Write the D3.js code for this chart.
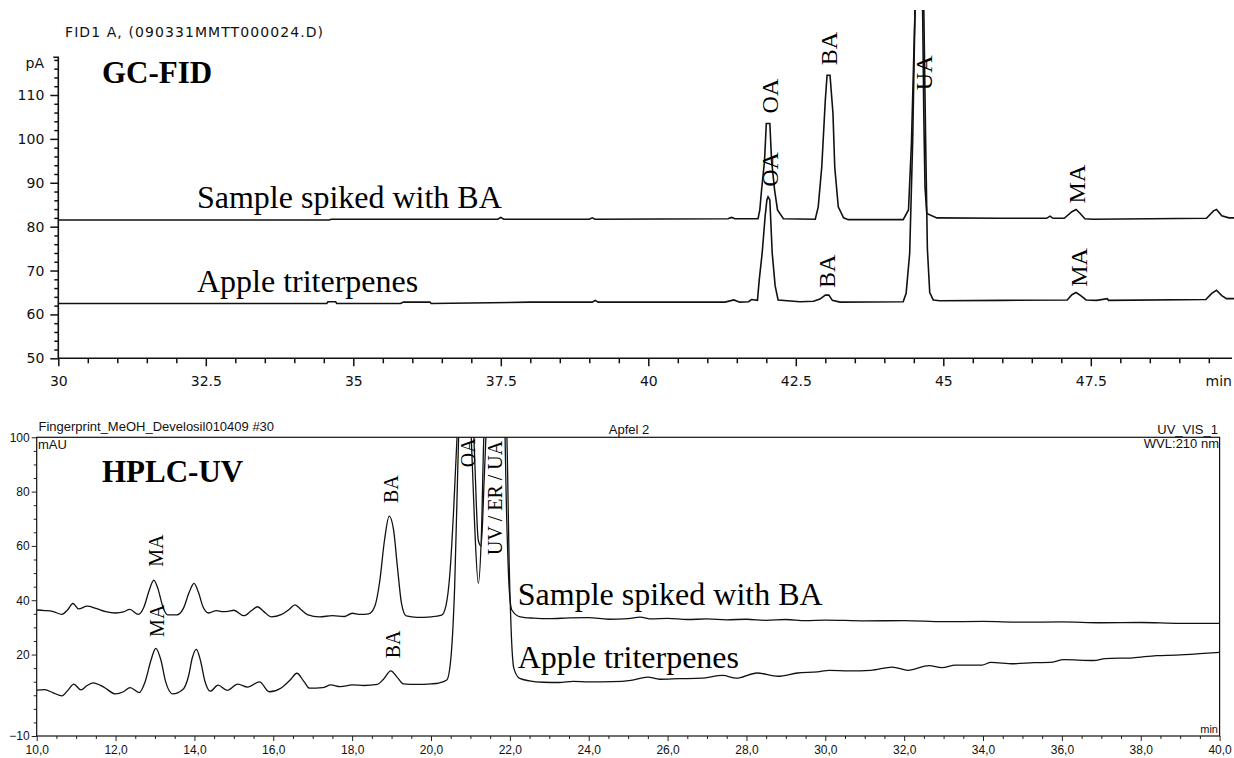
<!DOCTYPE html>
<html>
<head>
<meta charset="utf-8">
<title>GC-FID / HPLC-UV fingerprint</title>
<script src="https://d3js.org/d3.v7.min.js"></script>
<style>
body{ margin:0; background:#fff; }
svg{ display:block; }
.trace{ fill:none; stroke:#111; }
.serif{ font-family:'Liberation Serif','Times New Roman',serif; fill:#000; }
.gcfont{ font-family:'DejaVu Sans',sans-serif; font-size:14px; fill:#111; }
.lcfont{ font-family:'Liberation Sans',Arial,sans-serif; font-size:13px; fill:#111; }
</style>
</head>
<body>
<svg id="chart" width="1234" height="758"></svg>
<script>
// ---- GC-FID data (time in min, signal in pA) ----
var gcXTicks = [30, 32.5, 35, 37.5, 40, 42.5, 45, 47.5];
var gcYTicks = [50, 60, 70, 80, 90, 100, 110];

var gcSpiked = [[30,81.5],[34.6,81.5],[34.62,81.7],[37.45,81.7],[37.5,82.1],[37.55,81.7],[39.0,81.7],[39.05,82.0],[39.1,81.7],
  [41.35,81.8],[41.41,82.1],[41.47,81.8],[41.86,81.8],[41.89,83.8],[41.92,88.4],[41.97,95],[42.0,103.5],[42.06,103.5],
  [42.09,95],[42.14,88.4],[42.19,83.8],[42.29,81.8],[42.83,81.7],[42.88,84.5],[42.94,93.6],[43.0,108.8],[43.03,114.5],
  [43.08,114.5],[43.13,105.8],[43.16,93.6],[43.22,84.5],[43.31,82.0],[43.39,81.6],[44.32,81.6],[44.41,83.8],[44.46,99],
  [44.52,129],[44.56,145],[44.61,145],[44.65,129],[44.67,105],[44.69,89],[44.72,83],[44.89,82],[45.96,81.9],[46.75,81.9],
  [46.81,82.4],[46.86,81.9],[47.05,81.9],[47.18,83.4],[47.25,83.9],[47.32,83.0],[47.4,81.8],[47.54,81.7],[49.46,81.9],
  [49.58,83.6],[49.63,83.9],[49.72,82.5],[49.84,82.0],[50,82.0]];

var gcApple = [[30,62.5],[34.55,62.5],[34.57,62.9],[34.7,62.9],[34.72,62.5],[35.8,62.5],[35.85,62.8],[36.3,62.8],[36.32,62.5],
  [37.0,62.6],[38.0,62.8],[39.05,62.8],[39.1,63.2],[39.15,62.8],[41.3,62.8],[41.45,63.3],[41.55,62.8],[41.7,62.9],
  [41.75,63.4],[41.85,63.2],[41.88,67.8],[41.93,74],[41.98,82.3],[42.01,86.1],[42.03,86.8],[42.06,86.1],[42.1,74],
  [42.15,66.5],[42.2,63.3],[42.57,62.9],[42.8,63.0],[42.91,63.5],[43.0,64.4],[43.06,64.4],[43.12,63.2],[43.25,62.8],
  [44.32,62.9],[44.37,64.8],[44.43,73.9],[44.48,99],[44.52,129],[44.56,145],[44.63,145],[44.67,129],[44.7,100],
  [44.73,75],[44.77,65],[44.83,63.3],[44.94,63.1],[46.0,63.2],[47.1,63.3],[47.18,64.5],[47.25,65],[47.33,64.3],
  [47.42,63.3],[47.6,63.2],[47.78,63.6],[47.8,63.2],[49.45,63.4],[49.55,64.8],[49.63,65.5],[49.72,64.3],[49.8,63.6],[50,63.6]];

// peak labels: name, time, value at the start of the rotated text
var gcPeakNames = ["OA", "OA", "BA", "BA", "UA", "MA", "MA"];
var gcPeakTimes = [42.20, 42.20, 43.20, 43.16, 44.80, 47.40, 47.43];
var gcPeakValues = [105.8, 89.1, 116.8, 66.0, 111.1, 85.3, 66.3];

// ---- HPLC-UV data (time in min, absorbance in mAU) ----
var lcXTicks = [10, 12, 14, 16, 18, 20, 22, 24, 26, 28, 30, 32, 34, 36, 38, 40];
var lcYTicks = [100, 80, 60, 40, 20, -10];

var lcSpiked = [[10.0,36.4],[10.2,36.2],[10.4,35.9],[10.64,34.8],[10.78,36.4],[10.92,38.8],[11.06,36.8],[11.28,37.8],
  [11.5,37.0],[11.75,35.8],[12.0,35.3],[12.2,35.7],[12.36,36.6],[12.58,34.8],[12.72,37.5],[12.85,43.5],[12.97,47.4],
  [13.08,44],[13.2,37.5],[13.32,34.6],[13.55,34.6],[13.72,37],[13.87,43],[13.99,46.2],[14.1,43],[14.22,37.5],[14.36,35.3],
  [14.56,36.2],[14.72,35.8],[14.85,35.9],[15.0,36.3],[15.25,34.3],[15.45,36.2],[15.6,37.6],[15.76,35.8],[15.95,33.9],
  [16.2,34.7],[16.4,36.6],[16.55,38.3],[16.7,36.6],[16.88,34.6],[17.17,33.9],[17.5,34.3],[17.8,34.0],[18.0,35.2],
  [18.2,34.8],[18.42,35.0],[18.58,38],[18.7,47],[18.82,62],[18.94,71],[19.05,66],[19.15,52],[19.25,39],[19.37,34.2],
  [19.65,33.7],[20.0,33.9],[20.27,34.5],[20.38,38],[20.48,50],[20.57,72],[20.66,100],[20.85,140],[21.0,108],[21.1,70],
  [21.2,46.2],[21.28,65],[21.34,100],[21.6,145],[21.85,115],[21.92,70],[21.98,45],[22.05,36.4],[22.26,33.9],[22.6,33.4],
  [23.0,33.2],[23.5,33.5],[24.0,33.6],[24.5,33.0],[25.0,33.2],[25.3,33.8],[25.6,33.1],[26.0,33.3],[26.5,32.9],[27.0,33.1],
  [27.5,32.8],[28.0,33.0],[28.5,32.6],[29.0,32.9],[29.5,32.5],[30.0,32.7],[31.0,32.4],[32.0,32.5],[33.0,32.1],[34.0,32.2],
  [35.0,31.9],[36.0,32.0],[37.0,31.7],[38.0,31.8],[39.0,31.5],[40.0,31.5]];

var lcApple = [[10.0,6.9],[10.2,7.1],[10.42,5.9],[10.64,4.8],[10.8,7],[10.94,9.1],[11.12,7.0],[11.28,8.6],[11.43,9.6],
  [11.7,8.0],[12.0,5.5],[12.2,6.3],[12.37,7.8],[12.6,6.0],[12.75,10],[12.9,18],[13.02,22.3],[13.15,18],[13.27,10],
  [13.45,5.5],[13.7,7],[13.85,12],[13.95,19],[14.05,21.9],[14.15,18],[14.27,10],[14.4,6.5],[14.6,8.7],[14.83,6.8],
  [15.1,9.1],[15.35,8.0],[15.65,9.9],[15.9,6.3],[16.2,7.7],[16.42,10.5],[16.6,13.1],[16.78,10],[16.92,7.6],[17.25,7.8],
  [17.46,8.8],[17.7,8.2],[18.0,8.8],[18.3,8.6],[18.64,9.0],[18.8,11],[18.98,14.0],[19.15,11.5],[19.3,9.2],[19.65,9.0],
  [20.0,9.2],[20.2,9.5],[20.4,10.6],[20.5,18],[20.6,45],[20.7,100],[20.9,160],[21.1,95],[21.2,62],[21.27,60],[21.35,85],
  [21.45,120],[21.7,170],[21.88,130],[21.94,90],[21.98,55],[22.03,30],[22.1,15],[22.25,11.2],[22.5,10.3],[22.85,9.8],
  [23.25,9.7],[23.6,10.1],[24.0,9.9],[24.6,10.0],[25.07,10.5],[25.5,11.7],[25.8,10.9],[26.3,11.1],[26.86,11.3],
  [27.4,12.3],[27.74,11.3],[28.27,13.2],[28.8,12.0],[29.3,13.2],[29.8,13.6],[30.1,14.2],[30.6,14.0],[31.15,14.2],
  [31.7,15.4],[32.1,14.2],[32.63,15.9],[32.96,15.2],[33.3,16.1],[33.97,16.1],[34.2,17.1],[34.77,16.6],[35.3,17.0],
  [35.7,17.1],[36.05,18.1],[36.8,17.8],[37.1,18.5],[37.8,18.8],[38.4,19.6],[38.9,19.8],[39.5,20.3],[40.0,20.8]];

var lcPeakNames = ["MA", "MA", "BA", "BA", "OA", "UV / ER / UA"];
var lcPeakTimes = [13.20, 13.23, 19.17, 19.21, 21.12, 21.79];
var lcPeakValues = [52.3, 26.5, 75.8, 18.6, 89.0, 56.7];

var traceNames = ["Sample spiked with BA", "Apple triterpenes"];

var svg = d3.select("#chart");
svg.append("rect").attr("width", 1234).attr("height", 758).attr("fill", "#fff");

/******** GC-FID panel ********/
var gx = d3.scaleLinear().domain([30, 50]).range([58.3, 1238.3]);
var gy = d3.scaleLinear().domain([50, 110]).range([358.3, 95]);

var gc = svg.append("g").attr("class", "gc");

gc.append("clipPath").attr("id", "gcClip")
  .append("rect").attr("x", gx(30)).attr("y", 10).attr("width", 1180).attr("height", gy(50) - 10);

var gcLine = d3.line().x(function(d){ return gx(d[0]); }).y(function(d){ return gy(d[1]); });

gc.selectAll("path.trace")
  .data([gcSpiked, gcApple])
  .enter().append("path")
  .attr("class", "trace")
  .attr("clip-path", "url(#gcClip)")
  .attr("stroke-width", 1.6)
  .attr("d", gcLine);

// minor then major ticks on x
var gcXMinor = d3.range(30, 49.9, 0.5).filter(function(v){ return gcXTicks.indexOf(v) < 0; });
gc.append("g").attr("transform", "translate(0," + gy(50) + ")")
  .call(d3.axisBottom(gx).tickValues(gcXMinor).tickSize(5).tickFormat(""));
gc.append("g").attr("class", "gcx").attr("transform", "translate(0," + gy(50) + ")")
  .call(d3.axisBottom(gx).tickValues(gcXTicks).tickSize(8).tickPadding(10).tickFormat(function(d){ return d; }));

var gcYMinor = d3.range(50, 119, 2).filter(function(v){ return gcYTicks.indexOf(v) < 0; });
gc.append("g").attr("transform", "translate(" + gx(30) + ",0)")
  .call(d3.axisLeft(gy).tickValues(gcYMinor).tickSize(4).tickFormat(""));
gc.append("g").attr("class", "gcy").attr("transform", "translate(" + gx(30) + ",0)")
  .call(d3.axisLeft(gy).tickValues(gcYTicks).tickSize(8).tickPadding(6));

gc.selectAll(".domain").remove();
gc.selectAll(".tick line").attr("stroke", "#111").attr("stroke-width", 1.5);
gc.selectAll(".tick text").attr("class", "gcfont").attr("font-size", null).attr("font-family", null);
gc.selectAll("g").attr("font-size", null).attr("font-family", null);

// axis lines
gc.append("path")
  .attr("d", "M" + (gx(30) - 5) + "," + gy(118.6) + "H" + gx(30) + "V" + gy(50) + "H1232")
  .attr("fill", "none").attr("stroke", "#111").attr("stroke-width", 1.6);

gc.append("text").attr("class", "gcfont").attr("x", 1232).attr("y", gy(50) + 28)
  .attr("text-anchor", "end").text("min");
gc.append("text").attr("class", "gcfont").attr("x", 44).attr("y", 68)
  .attr("text-anchor", "end").text("pA");
gc.append("text").attr("class", "gcfont").attr("x", 65).attr("y", 37)
  .attr("textLength", 258).attr("lengthAdjust", "spacing")
  .text("FID1 A,  (090331MMTT000024.D)");
gc.append("text").attr("class", "serif").attr("x", 102).attr("y", 83)
  .attr("font-size", 31).attr("font-weight", "bold").text("GC-FID");

gc.selectAll("text.tlabel")
  .data(traceNames)
  .enter().append("text")
  .attr("class", "serif")
  .attr("font-size", 32)
  .attr("x", gx(32.35))
  .attr("y", function(d, i){ return gy([84.3, 65.2][i]); })
  .text(function(d){ return d; });

gc.selectAll("text.peak")
  .data(gcPeakNames)
  .enter().append("text")
  .attr("class", "serif")
  .attr("font-size", 24)
  .attr("transform", function(d, i){
    return "translate(" + gx(gcPeakTimes[i]) + "," + gy(gcPeakValues[i]) + ") rotate(-90)";
  })
  .text(function(d){ return d; });

/******** HPLC-UV panel ********/
var lx = d3.scaleLinear().domain([10, 40]).range([36.7, 1219.6]);
var ly = d3.scaleLinear().domain([-10, 100]).range([736, 437.3]);

var lc = svg.append("g").attr("class", "lc");

lc.append("clipPath").attr("id", "lcClip")
  .append("rect").attr("x", lx(10)).attr("y", ly(100))
  .attr("width", lx(40) - lx(10)).attr("height", ly(-10) - ly(100));

var lcLine = d3.line()
  .x(function(d){ return lx(d[0]); })
  .y(function(d){ return ly(d[1]); })
  .curve(d3.curveMonotoneX);

lc.selectAll("path.trace")
  .data([lcSpiked, lcApple])
  .enter().append("path")
  .attr("class", "trace")
  .attr("clip-path", "url(#lcClip)")
  .attr("stroke-width", 1.3)
  .attr("d", lcLine);

var lcXMinor = d3.range(10, 40.01, 0.5).filter(function(v){ return lcXTicks.indexOf(v) < 0; });
lc.append("g").attr("transform", "translate(0," + ly(-10) + ")")
  .call(d3.axisBottom(lx).tickValues(lcXMinor).tickSize(3).tickFormat(""));
lc.append("g").attr("transform", "translate(0," + ly(-10) + ")")
  .call(d3.axisBottom(lx).tickValues(lcXTicks).tickSize(5).tickPadding(4)
    .tickFormat(function(d){ return d3.format(".1f")(d).replace(".", ","); }));

var lcYMinor = d3.range(-10, 100.1, 5).filter(function(v){ return lcYTicks.indexOf(v) < 0; });
lc.append("g").attr("transform", "translate(" + lx(10) + ",0)")
  .call(d3.axisLeft(ly).tickValues(lcYMinor).tickSize(3).tickFormat(""));
lc.append("g").attr("transform", "translate(" + lx(10) + ",0)")
  .call(d3.axisLeft(ly).tickValues(lcYTicks).tickSize(5).tickPadding(2));

lc.selectAll(".domain").remove();
lc.selectAll(".tick line").attr("stroke", "#222").attr("stroke-width", 1);
lc.selectAll(".tick text").attr("class", "lcfont").style("font-size", "12px");
lc.selectAll("g").attr("font-size", null).attr("font-family", null);

lc.append("rect")
  .attr("x", lx(10)).attr("y", ly(100))
  .attr("width", lx(40) - lx(10)).attr("height", ly(-10) - ly(100))
  .attr("fill", "none").attr("stroke", "#111").attr("stroke-width", 1.2);

lc.append("text").attr("class", "lcfont").attr("x", 38.5).attr("y", 431).text("Fingerprint_MeOH_Develosil010409 #30");
lc.append("text").attr("class", "lcfont").attr("x", 38).attr("y", 449).text("mAU");
lc.append("text").attr("class", "lcfont").attr("x", 629).attr("y", 434).attr("text-anchor", "middle").text("Apfel 2");
lc.append("text").attr("class", "lcfont").attr("x", 1218).attr("y", 434).attr("text-anchor", "end").text("UV_VIS_1");
lc.append("text").attr("class", "lcfont").attr("x", 1219).attr("y", 448).attr("text-anchor", "end").text("WVL:210 nm");
lc.append("text").attr("class", "lcfont").attr("x", 1218).attr("y", 733).attr("text-anchor", "end")
  .style("font-size", "11px").text("min");
lc.append("text").attr("class", "serif").attr("x", 102).attr("y", 482)
  .attr("font-size", 31).attr("font-weight", "bold").text("HPLC-UV");

lc.selectAll("text.tlabel")
  .data(traceNames)
  .enter().append("text")
  .attr("class", "serif")
  .attr("font-size", 32)
  .attr("x", lx(22.2))
  .attr("y", function(d, i){ return ly([38.3, 15.2][i]); })
  .text(function(d){ return d; });

lc.selectAll("text.peak")
  .data(lcPeakNames)
  .enter().append("text")
  .attr("class", "serif")
  .attr("font-size", 20)
  .attr("transform", function(d, i){
    return "translate(" + lx(lcPeakTimes[i]) + "," + ly(lcPeakValues[i]) + ") rotate(-90)";
  })
  .text(function(d){ return d; });
</script>
</body>
</html>
